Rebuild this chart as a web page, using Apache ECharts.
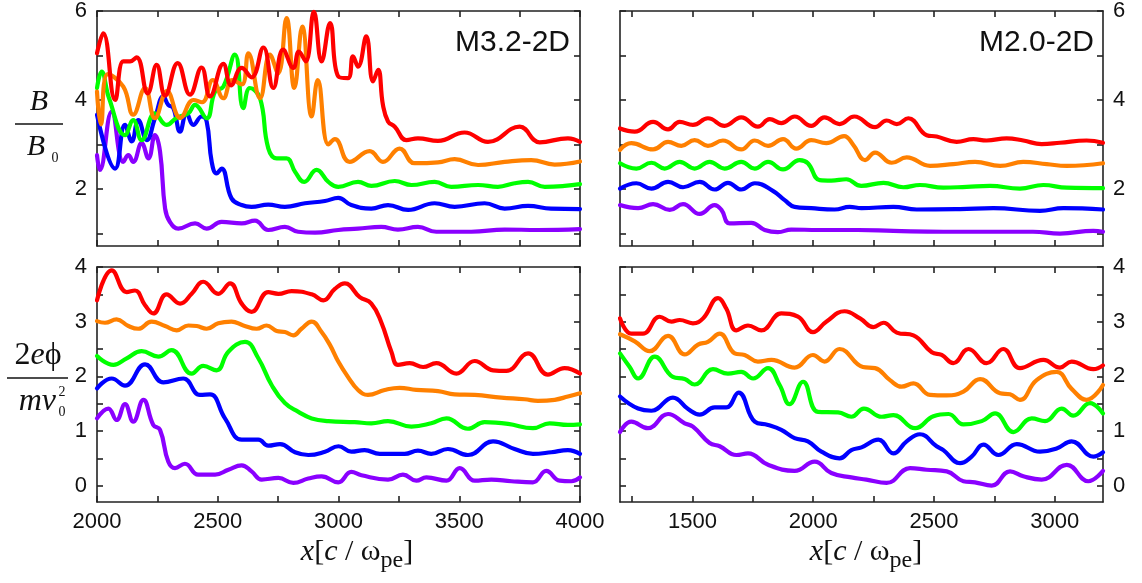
<!DOCTYPE html>
<html><head><meta charset="utf-8">
<script src="https://cdn.jsdelivr.net/npm/echarts@6/dist/echarts.min.js"></script>
<style>html,body{margin:0;padding:0;background:#fff}#c{width:1142px;height:583px}</style>
</head><body><div id="c"></div>
<script>
// ---------- tick labels ----------
const xTicksLeft = [2000,2250,2500,2750,3000,3250,3500,3750,4000];
const xLabelsLeft = [2000,2500,3000,3500,4000];
const xTicksRight = [1250,1500,1750,2000,2250,2500,2750,3000];
const xLabelsRight = [1500,2000,2500,3000];
const yTicksTop = [1,2,3,4,5,6];
const yLabelsTop = [2,4,6];
const yTicksBottom = [0,0.5,1,1.5,2,2.5,3,3.5,4];
const yLabelsBottom = [0,1,2,3,4];
const panelNames = ['M3.2-2D','M2.0-2D'];

// ---------- top-left: B/B0, M3.2-2D ----------
const tlRed = [[2000,5.05],[2026,5.50],[2075,4.00],[2109,4.87],[2137,4.87],[2164,4.96],[2210,4.15],[2247,4.79],[2282,4.10],[2334,4.83],[2385,4.12],[2433,4.73],[2468,4.08],[2523,4.81],[2555,4.33],[2599,4.72],[2640,4.51],[2689,5.18],[2730,4.27],[2771,5.13],[2813,4.72],[2836,5.09],[2864,4.87],[2898,5.98],[2930,4.87],[2965,5.73],[2999,4.53],[3039,4.49],[3060,4.98],[3081,4.75],[3115,5.43],[3143,4.42],[3164,4.68],[3184,3.89],[3205,3.52],[3233,3.40],[3281,3.10],[3329,3.14],[3412,3.08],[3522,3.27],[3619,3.06],[3750,3.40],[3833,3.05],[3950,3.14],[4000,3.06]];
const tlOrange = [[2000,4.19],[2016,3.45],[2045,4.58],[2109,4.30],[2150,3.67],[2199,4.27],[2240,3.59],[2290,4.20],[2345,3.60],[2400,4.00],[2435,3.95],[2480,4.45],[2523,4.04],[2560,4.45],[2600,4.35],[2627,5.05],[2675,4.04],[2716,5.02],[2750,4.60],[2785,5.84],[2817,4.27],[2850,5.65],[2889,3.63],[2914,4.45],[2958,3.00],[2985,3.12],[3046,2.61],[3129,2.85],[3184,2.61],[3253,2.91],[3315,2.58],[3412,2.60],[3481,2.67],[3578,2.54],[3688,2.61],[3798,2.65],[3895,2.55],[4000,2.62]];
const tlGreen = [[2000,4.27],[2019,4.64],[2050,4.04],[2116,3.21],[2150,3.55],[2185,3.10],[2240,3.70],[2288,3.44],[2330,3.60],[2378,3.70],[2406,3.89],[2454,3.59],[2489,4.19],[2523,4.30],[2571,5.02],[2606,3.82],[2633,4.27],[2675,4.04],[2709,2.92],[2744,2.69],[2785,2.69],[2820,2.39],[2858,2.16],[2909,2.43],[2958,2.16],[2999,2.05],[3081,2.16],[3136,2.07],[3233,2.18],[3302,2.09],[3398,2.16],[3467,2.05],[3578,2.09],[3660,2.05],[3729,2.13],[3785,2.16],[3854,2.05],[3936,2.07],[4000,2.11]];
const tlBlue = [[2000,3.67],[2075,2.46],[2116,3.44],[2144,3.07],[2171,3.55],[2206,3.10],[2240,3.59],[2275,4.08],[2295,3.89],[2316,3.82],[2344,3.29],[2371,3.70],[2399,3.44],[2433,3.63],[2454,3.52],[2475,2.61],[2495,2.35],[2516,2.46],[2557,1.79],[2599,1.64],[2640,1.60],[2709,1.65],[2778,1.60],[2861,1.68],[2944,1.73],[2999,1.80],[3053,1.64],[3136,1.56],[3205,1.64],[3288,1.53],[3398,1.68],[3481,1.60],[3605,1.68],[3688,1.56],[3785,1.62],[3880,1.56],[4000,1.55]];
const tlPurple = [[2000,2.76],[2012,2.43],[2061,3.74],[2109,2.61],[2130,2.76],[2150,2.61],[2185,3.03],[2213,2.69],[2240,3.21],[2261,2.84],[2282,1.56],[2302,1.26],[2337,1.11],[2406,1.23],[2454,1.11],[2516,1.26],[2599,1.23],[2654,1.29],[2709,1.08],[2778,1.15],[2833,1.04],[2903,1.02],[2999,1.08],[3081,1.11],[3177,1.15],[3246,1.09],[3329,1.15],[3405,1.04],[3550,1.04],[3688,1.09],[3826,1.08],[4000,1.10]];

// ---------- top-right: B/B0, M2.0-2D ----------
const trRed = [[1200,3.36],[1261,3.29],[1337,3.51],[1399,3.34],[1447,3.51],[1502,3.44],[1564,3.59],[1633,3.42],[1702,3.61],[1771,3.40],[1820,3.57],[1868,3.48],[1923,3.63],[1992,3.42],[2047,3.61],[2109,3.46],[2170,3.63],[2256,3.39],[2304,3.54],[2346,3.46],[2394,3.59],[2470,3.21],[2511,3.18],[2594,3.06],[2663,3.12],[2718,3.09],[2801,3.14],[2870,3.09],[2946,3.01],[3022,3.04],[3132,3.09],[3200,3.04]];
const trOrange = [[1200,2.88],[1247,3.03],[1337,2.89],[1399,3.06],[1454,2.97],[1509,3.10],[1564,2.97],[1626,3.09],[1702,2.89],[1758,3.09],[1813,2.97],[1875,3.12],[1930,2.91],[1992,3.10],[2054,3.03],[2128,3.19],[2165,3.00],[2215,2.65],[2256,2.82],[2325,2.59],[2387,2.71],[2484,2.52],[2580,2.56],[2670,2.61],[2774,2.52],[2870,2.61],[2967,2.56],[3050,2.52],[3200,2.58]];
const trGreen = [[1200,2.58],[1268,2.46],[1330,2.59],[1385,2.46],[1447,2.61],[1509,2.46],[1571,2.61],[1633,2.46],[1702,2.61],[1758,2.46],[1813,2.61],[1875,2.44],[1944,2.65],[1978,2.58],[2027,2.20],[2075,2.19],[2137,2.22],[2199,2.07],[2291,2.14],[2373,2.04],[2442,2.09],[2539,2.03],[2636,2.05],[2732,2.07],[2856,2.01],[2953,2.09],[3050,2.03],[3200,2.02]];
const trBlue = [[1200,2.01],[1268,2.13],[1330,2.01],[1399,2.16],[1461,2.04],[1530,2.16],[1592,1.99],[1647,2.14],[1702,1.99],[1758,2.13],[1833,1.96],[1882,1.75],[1923,1.60],[1992,1.57],[2089,1.54],[2151,1.60],[2200,1.57],[2332,1.60],[2429,1.54],[2608,1.55],[2746,1.57],[2939,1.51],[3036,1.57],[3200,1.54]];
const trPurple = [[1200,1.64],[1275,1.57],[1337,1.66],[1406,1.53],[1461,1.66],[1530,1.44],[1592,1.64],[1620,1.53],[1654,1.23],[1744,1.24],[1799,1.08],[1854,1.03],[1909,1.09],[2020,1.08],[2185,1.08],[2332,1.06],[2539,1.04],[2720,1.04],[2910,1.04],[3022,1.00],[3160,1.06],[3200,1.04]];

// ---------- bottom-left: 2e phi / m v0^2, M3.2-2D ----------
const blRed = [[2000,3.39],[2061,3.94],[2123,3.54],[2157,3.57],[2199,3.30],[2233,3.15],[2288,3.50],[2344,3.33],[2392,3.51],[2440,3.73],[2502,3.51],[2551,3.70],[2599,3.33],[2640,3.18],[2709,3.54],[2751,3.51],[2806,3.56],[2889,3.50],[2937,3.39],[2985,3.60],[3026,3.70],[3088,3.45],[3136,3.33],[3177,2.99],[3219,2.45],[3246,2.21],[3295,2.24],[3350,2.17],[3405,2.24],[3488,2.05],[3564,2.28],[3640,2.11],[3695,2.10],[3785,2.42],[3867,2.03],[3936,2.15],[4000,2.05]];
const blOrange = [[2000,3.01],[2033,2.98],[2081,3.04],[2130,2.92],[2171,2.87],[2226,3.00],[2282,2.92],[2330,2.84],[2378,2.93],[2413,2.92],[2454,2.87],[2502,2.97],[2557,3.00],[2606,2.93],[2661,2.87],[2702,2.93],[2744,2.83],[2778,2.81],[2813,2.75],[2847,2.87],[2889,3.00],[2930,2.81],[2965,2.57],[2999,2.27],[3039,1.99],[3081,1.75],[3122,1.66],[3191,1.75],[3253,1.79],[3322,1.75],[3412,1.73],[3481,1.67],[3564,1.66],[3674,1.61],[3771,1.58],[3826,1.55],[3895,1.57],[3950,1.63],[4000,1.69]];
const blGreen = [[2000,2.37],[2068,2.21],[2123,2.33],[2185,2.46],[2254,2.36],[2309,2.48],[2392,2.05],[2440,2.19],[2495,2.11],[2544,2.45],[2613,2.63],[2668,2.33],[2723,1.84],[2778,1.51],[2834,1.35],[2889,1.23],[2958,1.18],[3067,1.16],[3136,1.14],[3205,1.18],[3302,1.08],[3384,1.14],[3447,1.23],[3536,1.04],[3605,1.16],[3702,1.13],[3805,1.05],[3874,1.14],[3950,1.11],[4000,1.12]];
const blBlue = [[2000,1.78],[2061,1.96],[2116,1.83],[2199,2.22],[2275,1.89],[2357,1.96],[2426,1.66],[2468,1.67],[2530,1.23],[2599,0.84],[2668,0.84],[2709,0.73],[2758,0.76],[2820,0.61],[2875,0.56],[2944,0.62],[3000,0.72],[3053,0.62],[3108,0.65],[3171,0.58],[3274,0.58],[3329,0.64],[3384,0.58],[3453,0.67],[3536,0.56],[3640,0.81],[3729,0.67],[3805,0.58],[3881,0.61],[3950,0.65],[4000,0.58]];
const blPurple = [[2000,1.23],[2047,1.41],[2081,1.20],[2116,1.49],[2150,1.17],[2192,1.57],[2233,1.11],[2261,1.02],[2295,0.44],[2323,0.32],[2364,0.40],[2419,0.20],[2489,0.20],[2544,0.29],[2599,0.37],[2640,0.26],[2682,0.11],[2751,0.14],[2813,0.05],[2875,0.13],[2930,0.17],[2999,0.06],[3053,0.25],[3095,0.19],[3205,0.11],[3267,0.20],[3322,0.09],[3364,0.15],[3447,0.09],[3502,0.32],[3564,0.09],[3633,0.11],[3716,0.08],[3805,0.06],[3860,0.27],[3916,0.09],[3964,0.08],[4000,0.15]];

// ---------- bottom-right: 2e phi / m v0^2, M2.0-2D ----------
const brRed = [[1200,3.06],[1247,2.78],[1295,2.78],[1364,3.09],[1413,3.00],[1447,3.03],[1502,2.97],[1544,3.06],[1606,3.43],[1640,3.24],[1682,2.84],[1730,2.93],[1785,2.84],[1868,3.15],[1937,3.09],[1999,2.81],[2054,3.00],[2130,3.19],[2194,3.06],[2249,2.90],[2291,2.98],[2346,2.80],[2415,2.75],[2491,2.44],[2532,2.39],[2580,2.24],[2643,2.50],[2718,2.24],[2787,2.50],[2856,2.15],[2953,2.30],[3022,2.16],[3070,2.27],[3160,2.13],[3200,2.20]];
const brOrange = [[1200,2.77],[1261,2.64],[1323,2.46],[1399,2.74],[1468,2.40],[1523,2.58],[1564,2.63],[1613,2.78],[1675,2.42],[1716,2.39],[1771,2.27],[1827,2.30],[1923,2.16],[1999,2.39],[2047,2.27],[2109,2.50],[2206,2.17],[2256,2.15],[2318,1.93],[2366,1.81],[2415,1.87],[2484,1.66],[2553,1.65],[2622,1.72],[2691,1.95],[2774,1.69],[2815,1.67],[2856,1.57],[2925,1.93],[3008,2.08],[3070,1.77],[3132,1.57],[3200,1.84]];
const brGreen = [[1200,2.42],[1240,2.17],[1275,1.96],[1344,2.36],[1419,1.99],[1468,1.95],[1509,1.85],[1585,2.13],[1647,2.05],[1702,2.08],[1751,1.96],[1813,2.15],[1861,1.84],[1902,1.49],[1958,1.90],[2020,1.35],[2103,1.34],[2158,1.26],[2210,1.41],[2284,1.26],[2332,1.29],[2422,1.05],[2498,1.27],[2560,1.31],[2622,1.12],[2698,1.18],[2753,1.32],[2829,0.98],[2905,1.23],[2960,1.18],[3029,1.41],[3077,1.28],[3146,1.51],[3200,1.32]];
const brBlue = [[1200,1.63],[1275,1.41],[1330,1.37],[1419,1.61],[1482,1.40],[1530,1.30],[1592,1.43],[1640,1.43],[1691,1.70],[1758,1.17],[1813,1.11],[1868,1.02],[1923,0.87],[1978,0.81],[2034,0.62],[2109,0.50],[2158,0.65],[2200,0.70],[2270,0.84],[2332,0.59],[2387,0.81],[2442,0.94],[2511,0.72],[2539,0.65],[2608,0.41],[2656,0.53],[2705,0.75],[2767,0.56],[2843,0.76],[2939,0.62],[3008,0.68],[3070,0.81],[3160,0.53],[3200,0.61]];
const brPurple = [[1200,0.98],[1247,1.17],[1316,1.05],[1399,1.31],[1468,1.14],[1502,1.08],[1571,0.78],[1613,0.72],[1682,0.56],[1730,0.59],[1813,0.38],[1923,0.27],[2006,0.44],[2075,0.23],[2158,0.15],[2220,0.11],[2304,0.05],[2401,0.32],[2470,0.29],[2553,0.26],[2622,0.08],[2670,0.06],[2739,0.00],[2815,0.26],[2870,0.17],[2946,0.11],[3050,0.38],[3139,0.08],[3200,0.27]];

const colors = {red:'#ff0000', orange:'#ff8000', green:'#00ff00', blue:'#0000ff', purple:'#8a00ff'};
const panels = [
  {grid:0, data:{purple:tlPurple, blue:tlBlue, green:tlGreen, orange:tlOrange, red:tlRed}},
  {grid:1, data:{purple:trPurple, blue:trBlue, green:trGreen, orange:trOrange, red:trRed}},
  {grid:2, data:{purple:blPurple, blue:blBlue, green:blGreen, orange:blOrange, red:blRed}},
  {grid:3, data:{purple:brPurple, blue:brBlue, green:brGreen, orange:brOrange, red:brRed}}
];

const FRAME = '#222';
const labelFont = {fontSize:22, fontFamily:'Liberation Sans, Arial, sans-serif', color:'#111', formatter:(v)=>String(v)};
const grids = [
  {left:97, top:11, width:483, height:235},
  {left:620, top:11, width:483, height:235},
  {left:97, top:267, width:483, height:235},
  {left:620, top:267, width:483, height:235}
];

function xAxisPair(gi, min, max, ticks, labels, showLabels) {
  const base = {
    type:'value', gridIndex:gi, min:min, max:max,
    splitLine:{show:false},
    axisLine:{show:true, onZero:false, lineStyle:{color:FRAME, width:1.6}},
    axisTick:{show:true, inside:true, length:6, customValues:ticks, lineStyle:{color:FRAME, width:1.6}}
  };
  return [
    Object.assign({}, base, {position:'bottom',
      axisLabel:Object.assign({show:showLabels, customValues:labels, margin:9, showMinLabel:true, showMaxLabel:true}, labelFont)}),
    Object.assign({}, base, {position:'top', axisLabel:{show:false}})
  ];
}
function yAxisPair(gi, min, max, ticks, labels, labelSide) {
  const base = {
    type:'value', gridIndex:gi, min:min, max:max,
    splitLine:{show:false},
    axisLine:{show:true, onZero:false, lineStyle:{color:FRAME, width:1.6}},
    axisTick:{show:true, inside:true, length:6, customValues:ticks, lineStyle:{color:FRAME, width:1.6}}
  };
  return [
    Object.assign({}, base, {position:'left',
      axisLabel:Object.assign({show:labelSide==='left', customValues:labels, margin:10}, labelFont)}),
    Object.assign({}, base, {position:'right',
      axisLabel:Object.assign({show:labelSide==='right', customValues:labels, margin:10}, labelFont)})
  ];
}

const xAxis = [].concat(
  xAxisPair(0, 2000, 4000, xTicksLeft, xLabelsLeft, false),
  xAxisPair(1, 1200, 3200, xTicksRight, xLabelsRight, false),
  xAxisPair(2, 2000, 4000, xTicksLeft, xLabelsLeft, true),
  xAxisPair(3, 1200, 3200, xTicksRight, xLabelsRight, true)
);
const yAxis = [].concat(
  yAxisPair(0, 0.72, 6, yTicksTop, yLabelsTop, 'left'),
  yAxisPair(1, 0.72, 6, yTicksTop, yLabelsTop, 'right'),
  yAxisPair(2, -0.3, 4, yTicksBottom, yLabelsBottom, 'left'),
  yAxisPair(3, -0.3, 4, yTicksBottom, yLabelsBottom, 'right')
);

const series = [];
panels.forEach(p => {
  ['purple','blue','green','orange','red'].forEach(c => {
    series.push({
      type:'line', xAxisIndex:p.grid*2, yAxisIndex:p.grid*2,
      data:p.data[c], smooth:0.45, showSymbol:false, symbol:'none',
      lineStyle:{color:colors[c], width:4.2, cap:'round', join:'round'},
      z:3
    });
  });
});

const serif = 'Liberation Serif, Times New Roman, DejaVu Serif, serif';
const graphic = [
  // panel names
  {type:'text', x:570, y:43, style:{text:panelNames[0], fill:'#111', font:'30px Liberation Sans, Arial, sans-serif', textAlign:'right', textVerticalAlign:'middle'}},
  {type:'text', x:1094, y:43, style:{text:panelNames[1], fill:'#111', font:'30px Liberation Sans, Arial, sans-serif', textAlign:'right', textVerticalAlign:'middle'}},
  // B / B0
  {type:'text', x:39, y:102, style:{text:'B', fill:'#111', font:'italic 30px '+serif, textAlign:'center', textVerticalAlign:'middle'}},
  {type:'line', shape:{x1:15, y1:124, x2:63, y2:124}, style:{stroke:'#111', lineWidth:1.5}},
  {type:'text', x:36, y:147, style:{text:'B', fill:'#111', font:'italic 30px '+serif, textAlign:'center', textVerticalAlign:'middle'}},
  {type:'text', x:55, y:158, style:{text:'0', fill:'#111', font:'14px '+serif, textAlign:'center', textVerticalAlign:'middle'}},
  // 2e phi / m v0^2
  {type:'text', x:38, y:356, style:{
    text:'{n|2}{i|e}{n|ϕ}', textAlign:'center', textVerticalAlign:'middle',
    rich:{n:{fontSize:32, fontFamily:serif, fill:'#111'}, i:{fontSize:32, fontFamily:serif, fontStyle:'italic', fill:'#111'}}}},
  {type:'line', shape:{x1:7, y1:378, x2:68, y2:378}, style:{stroke:'#111', lineWidth:1.5}},
  {type:'text', x:56, y:402, style:{text:'mv', fill:'#111', font:'italic 32px '+serif, textAlign:'right', textVerticalAlign:'middle'}},
  {type:'text', x:62, y:392, style:{text:'2', fill:'#111', font:'14px '+serif, textAlign:'center', textVerticalAlign:'middle'}},
  {type:'text', x:62, y:412, style:{text:'0', fill:'#111', font:'14px '+serif, textAlign:'center', textVerticalAlign:'middle'}}
];
// x-axis titles
[[357, 553],[866, 553]].forEach(pos => {
  graphic.push({type:'text', x:pos[0], y:pos[1], style:{
    text:'{i|x}{n|[}{i|c}{n| / }{n|ω}{s|pe}{n|]}', textAlign:'center', textVerticalAlign:'middle',
    rich:{
      i:{fontSize:30, fontFamily:serif, fontStyle:'italic', fill:'#111', verticalAlign:'top', lineHeight:32},
      n:{fontSize:30, fontFamily:serif, fill:'#111', verticalAlign:'top', lineHeight:32},
      s:{fontSize:24, fontFamily:serif, fill:'#111', verticalAlign:'top', lineHeight:32, padding:[12,0,0,0]}
    }}});
});

const chart = echarts.init(document.getElementById('c'), null, {renderer:'canvas'});
chart.setOption({
  animation:false,
  backgroundColor:'#fff',
  grid:grids,
  xAxis:xAxis,
  yAxis:yAxis,
  series:series,
  graphic:graphic
});
</script>
</body></html>
